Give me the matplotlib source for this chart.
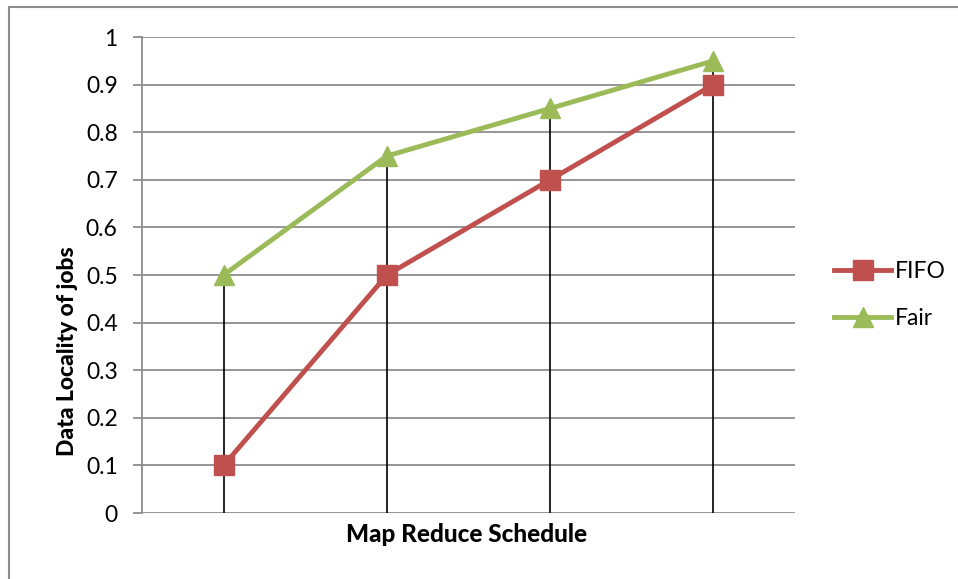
import matplotlib
matplotlib.use("Agg")
import matplotlib.pyplot as plt
from matplotlib.lines import Line2D

plt.rcParams['font.family'] = ['Lato', 'DejaVu Sans']

categories = [1, 2, 3, 4]
fifo = [0.1, 0.5, 0.7, 0.9]
fair = [0.5, 0.75, 0.85, 0.95]
y_ticks = [0, 0.1, 0.2, 0.3, 0.4, 0.5, 0.6, 0.7, 0.8, 0.9, 1]
y_labels = ['0', '0.1', '0.2', '0.3', '0.4', '0.5', '0.6', '0.7', '0.8', '0.9', '1']

RED = '#C0504D'
GREEN = '#9BBB59'
GRID = '#8C8C8C'

W, H = 958, 579
fig = plt.figure(figsize=(W / 100, H / 100), dpi=100)
ax = fig.add_axes([142 / W, 1 - 513 / H, (795 - 142) / W, (513 - 37) / H])

ax.set_xlim(0.5, 4.5)
ax.set_ylim(0, 1)

# horizontal gridlines
for t in y_ticks:
    ax.axhline(t, color=GRID, lw=1.3, zorder=1)

# drop lines from the higher series to the axis
for x, a, b in zip(categories, fifo, fair):
    ax.plot([x, x], [0, max(a, b)], color='black', lw=1.2, zorder=2)

ax.plot(categories, fifo, color=RED, lw=3.5, marker='s', markersize=14,
        markerfacecolor=RED, markeredgecolor=RED, zorder=3, label='FIFO')
ax.plot(categories, fair, color=GREEN, lw=3.5, marker='^', markersize=14,
        markerfacecolor=GREEN, markeredgecolor=GREEN, zorder=4, label='Fair')

for s in ['top', 'right', 'bottom']:
    ax.spines[s].set_visible(False)
ax.spines['left'].set_color(GRID)
ax.spines['left'].set_linewidth(1.3)

ax.set_yticks(y_ticks)
ax.set_yticklabels(y_labels, fontsize=16.5)
ax.tick_params(axis='y', length=6.5, width=1.3, color=GRID, pad=11)
ax.set_xticks([])

fig.text(67 / W, 1 - 351 / H, 'Data Locality of jobs', fontsize=16.5, fontweight='black',
         rotation=90, ha='center', va='center')
fig.text(467 / W, 1 - 534 / H, 'Map Reduce Schedule', fontsize=17.5, fontweight='black',
         ha='center', va='center')

handles = [
    Line2D([], [], color=RED, lw=3.5, marker='s', markersize=14, label='FIFO'),
    Line2D([], [], color=GREEN, lw=3.5, marker='^', markersize=14, label='Fair'),
]
fig.legend(handles=handles, loc='center left', bbox_to_anchor=(834 / W, 1 - 295 / H),
           frameon=False, fontsize=16.5, handlelength=2.5, handletextpad=0.15,
           labelspacing=1.1, borderaxespad=0, borderpad=0)

# chart border (top and left edges)
fig.add_artist(Line2D([9 / W, 1], [1 - 7 / H, 1 - 7 / H], color=GRID, lw=1.5,
                      transform=fig.transFigure))
fig.add_artist(Line2D([9 / W, 9 / W], [0, 1 - 7 / H], color=GRID, lw=1.5,
                      transform=fig.transFigure))

fig.savefig('out.png', dpi=100, facecolor='white')
